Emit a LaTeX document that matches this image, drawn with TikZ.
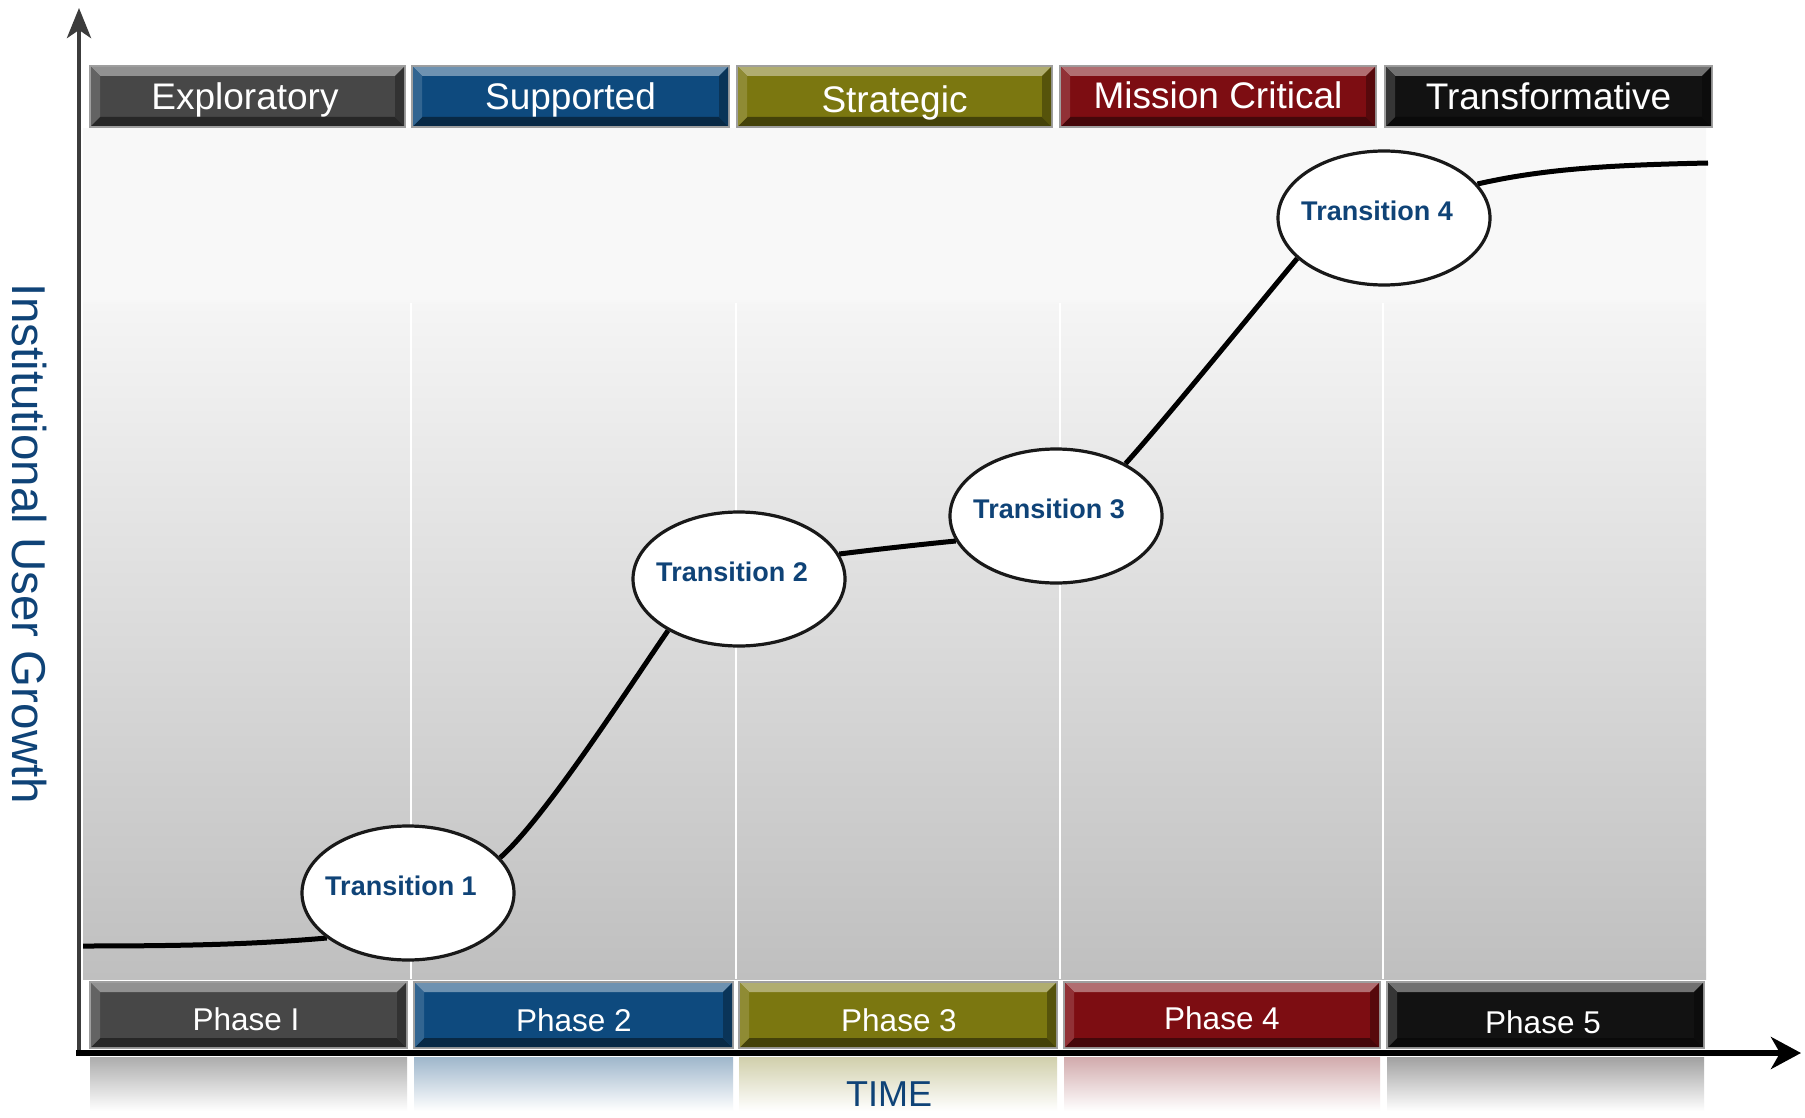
\documentclass[tikz,border=0pt]{standalone}
\usepackage{fontspec}
\setmainfont{Liberation Sans}
\usetikzlibrary{shapes.geometric,arrows.meta,calc}
\pgfdeclarelayer{bg}
\pgfdeclarelayer{mid}
\pgfsetlayers{bg,mid,main}
\definecolor{cexp}{RGB}{71,71,71}
\definecolor{csup}{RGB}{14,74,126}
\definecolor{cstr}{RGB}{123,119,16}
\definecolor{cmis}{RGB}{125,13,18}
\definecolor{ctra}{RGB}{18,18,18}
\definecolor{navy}{RGB}{15,67,119}
\definecolor{bgtop}{RGB}{248,248,248}
\definecolor{bgmid}{RGB}{245,245,245}
\definecolor{bgbot}{RGB}{191,191,191}
\definecolor{axisgray}{RGB}{60,60,60}
\pgfdeclareverticalshading{plotshade}{100bp}{color(0bp)=(bgbot); color(25bp)=(bgbot); color(64.7bp)=(bgmid); color(65bp)=(bgtop); color(100bp)=(bgtop)}
\newcommand\bevelit[2]{%
  \path (#1.north west) ++(2,2) coordinate (#1a)
        (#1.north east) ++(-2,2) coordinate (#1b)
        (#1.south east) ++(-2,-2) coordinate (#1c)
        (#1.south west) ++(2,-2) coordinate (#1d);
  \fill[#2!60!white] (#1a) -- (#1b) -- ($(#1b)+(-9,9)$) -- ($(#1a)+(9,9)$) -- cycle;
  \fill[#2!55!black] (#1d) -- (#1c) -- ($(#1c)+(-9,-9)$) -- ($(#1d)+(9,-9)$) -- cycle;
  \fill[#2!85!white] (#1a) -- (#1d) -- ($(#1d)+(9,-9)$) -- ($(#1a)+(9,9)$) -- cycle;
  \fill[#2!70!black] (#1b) -- (#1c) -- ($(#1c)+(-9,-9)$) -- ($(#1b)+(-9,9)$) -- cycle;
}
\begin{document}
\begin{tikzpicture}[x=1pt,y=-1pt,
  topbox/.style={draw=gray!75, line width=2pt, minimum height=61pt, inner sep=0pt},
  phasebox/.style={draw=gray!75, line width=2pt, minimum height=66pt, inner sep=0pt},
  toptext/.style={text=white, anchor=base, inner sep=0pt, font=\fontsize{37}{40}\selectfont},
  phasetext/.style={text=white, anchor=base, inner sep=0pt, font=\fontsize{31.5}{36}\selectfont},
  trans/.style={ellipse, draw=black!90, line width=3.2pt, fill=white, minimum width=212pt, minimum height=134pt, inner sep=0pt},
  transtext/.style={text=navy, inner sep=0pt, font=\bfseries\fontsize{27}{30}\selectfont},
  growth/.style={line width=5pt, black},
  sep/.style={white, line width=1.5pt}
]
\useasboundingbox (0,0) rectangle (1805,1118);

\begin{pgfonlayer}{bg}
\fill[white] (0,0) rectangle (1805,1118);
\shade[shading=plotshade] (83,129) rectangle (1706,979);
\foreach \sx in {411,736,1060,1383} \draw[sep] (\sx,303) -- (\sx,979);
% reflections
\shade[top color=cexp!45!white, bottom color=white] (90,1057) rectangle (407,1111);
\shade[top color=csup!40!white, bottom color=white] (414,1057) rectangle (733,1111);
\shade[top color=cstr!35!white, bottom color=white] (739,1057) rectangle (1057,1111);
\shade[top color=cmis!35!white, bottom color=white] (1064,1057) rectangle (1380,1111);
\shade[top color=ctra!40!white, bottom color=white] (1387,1057) rectangle (1704,1111);
\end{pgfonlayer}

% top category boxes
\node[topbox, fill=cexp, minimum width=315pt] (exp) at (247.5,96.5) {};
\bevelit{exp}{cexp}\node[toptext] (expt) at (245,110) {Exploratory};
\node[topbox, fill=csup, minimum width=317pt] (sup) at (570.5,96.5) {};
\bevelit{sup}{csup}\node[toptext] (supt) at (570.5,110) {Supported};
\node[topbox, fill=cstr, minimum width=315pt] (str) at (894.5,96.5) {};
\bevelit{str}{cstr}\node[toptext] (strt) at (894.5,113) {Strategic};
\node[topbox, fill=cmis, minimum width=316pt] (mis) at (1218,96.5) {};
\bevelit{mis}{cmis}\node[toptext] (mist) at (1218,109) {Mission Critical};
\node[topbox, fill=ctra, minimum width=327pt] (tra) at (1548.5,96.5) {};
\bevelit{tra}{ctra}\node[toptext] (trat) at (1548.5,110) {Transformative};

% bottom phase boxes
\node[phasebox, fill=cexp, minimum width=317pt] (p1) at (248.5,1015) {};
\bevelit{p1}{cexp}\node[phasetext] (p1t) at (246,1030) {Phase I};
\node[phasebox, fill=csup, minimum width=319pt] (p2) at (573.5,1015) {};
\bevelit{p2}{csup}\node[phasetext] (p2t) at (574,1031) {Phase 2};
\node[phasebox, fill=cstr, minimum width=318pt] (p3) at (898,1015) {};
\bevelit{p3}{cstr}\node[phasetext] (p3t) at (899,1031) {Phase 3};
\node[phasebox, fill=cmis, minimum width=316pt] (p4) at (1222,1015) {};
\bevelit{p4}{cmis}\node[phasetext] (p4t) at (1222,1029) {Phase 4};
\node[phasebox, fill=ctra, minimum width=317pt] (p5) at (1545.5,1015) {};
\bevelit{p5}{ctra}\node[phasetext] (p5t) at (1543,1033) {Phase 5};

% axes
\coordinate (ytip) at (79,8);
\coordinate (xtip) at (1801,1053);
\coordinate (ybase) at (79,1055);
\coordinate (xbase) at (76,1053);
\draw[axisgray, line width=4.5pt, -{Stealth[length=30pt,width=24pt,inset=8pt]}] (ybase) -- (ytip);
\draw[black, line width=6pt, -{Stealth[length=30pt,width=32pt,inset=9pt]}] (xbase) -- (xtip);

% axis labels
\node[text=navy, font=\fontsize{36}{40}\selectfont] (timel) at (889,1094) {TIME};
\node[text=navy, font=\fontsize{47.5}{50}\selectfont, rotate=-90] (ylab) at (29,544) {Institutional User Growth};

% transitions
\node[trans] (t1) at (408,893) {};
\node[trans] (t2) at (739,579) {};
\node[trans] (t3) at (1056,516) {};
\node[trans] (t4) at (1384,218) {};
\node[transtext] (t1t) at (401,886) {Transition 1};
\node[transtext] (t2t) at (732,572) {Transition 2};
\node[transtext] (t3t) at (1049,509) {Transition 3};
\node[transtext] (t4t) at (1377,211) {Transition 4};

\coordinate (c0) at (83,946);
\coordinate (c5) at (1708,163);
\begin{pgfonlayer}{mid}
\draw[growth] (c0) .. controls +(110,0) and +(-70,6) .. (t1.209);
\draw[growth] (t1.21) .. controls +(45,-40) and +(-40,58) .. (t2.216);
\draw[growth] (t2.14) .. controls +(40,-5) and +(-40,4) .. (t3.194);
\draw[growth] (t3.37) .. controls +(38,-42) and +(-40,48) .. (t4.205);
\draw[growth] (t4.20) .. controls +(70,-16) and +(-90,2) .. (c5);
\end{pgfonlayer}
\end{tikzpicture}
\end{document}
